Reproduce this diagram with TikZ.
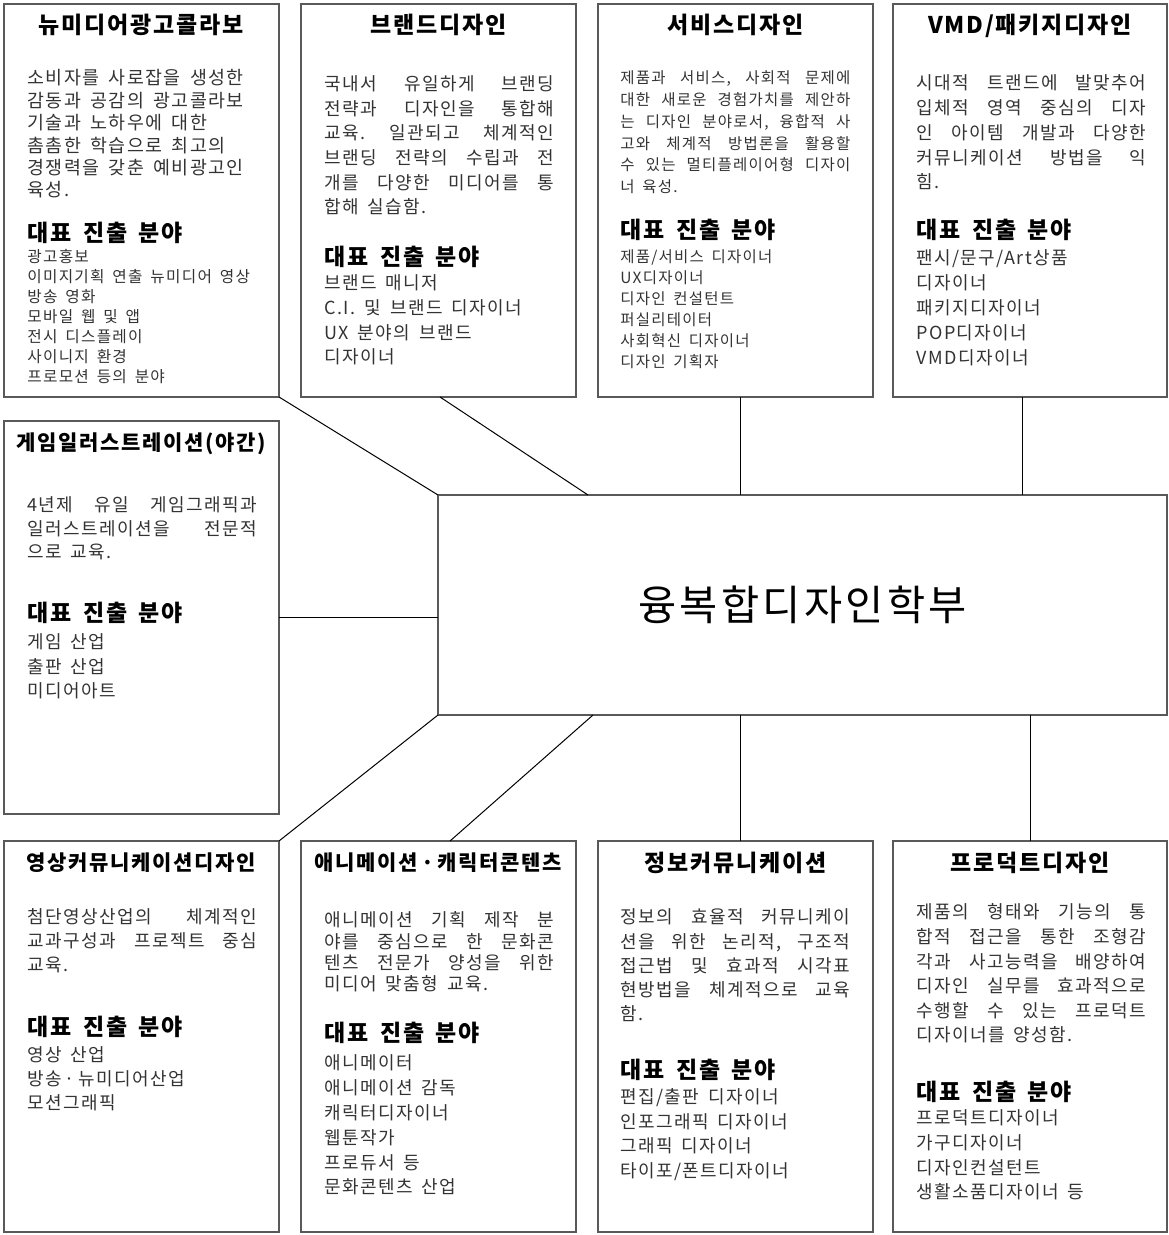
\documentclass[tikz,border=0pt]{standalone}
\usepackage{fontspec}
\setmainfont[LetterSpace=8]{Noto Sans CJK KR}
\usepackage{tikz}
\usetikzlibrary{positioning}
\newcommand{\jl}[1]{\makebox[\linewidth][s]{\frenchspacing\spaceskip=0.5em plus 1fil\relax #1}\\}
\newcommand{\fsp}{\fontdimen2\font=0.5em\fontdimen3\font=0.2em\fontdimen4\font=0.1em\relax}
\newcommand{\fsz}[2]{\fontsize{#1}{#2}\selectfont\fsp\frenchspacing}
\tikzstyle{box} = [rectangle, draw=black!65, line width=0.6pt, anchor=north west, inner sep=0pt,
    outer sep=0pt, minimum width=137.5pt, minimum height=196.5pt]
\tikzstyle{hub} = [rectangle, draw=black!65, line width=0.6pt, inner sep=0pt, outer sep=0pt,
    minimum width=364.5pt, minimum height=110pt, font=\fsz{20.75}{24}]
\tikzstyle{title} = [anchor=base, inner sep=0pt, font=\fsz{11.5}{13}\bfseries\fsp]
\tikzstyle{longtitle} = [title, font=\fsz{10.5}{12}\bfseries\fsp]
\tikzstyle{field} = [anchor=base west, inner sep=0pt, font=\fsz{11.5}{13}\bfseries\fsp]
\tikzstyle{desc} = [anchor=base west, inner sep=0pt, text width=115pt, text=black!80,
    execute at begin node={\spaceskip=0pt\xspaceskip=0pt\relax}]
\tikzstyle{jobs} = [desc]
\tikzstyle{line} = [draw, line width=0.5pt]
\begin{document}
\begin{tikzpicture}[x=0.5pt, y=-0.5pt, node distance=11pt]
      \useasboundingbox (0,0) rectangle (1168,1235);
      % Boxes
      \node [box] (b1) at (4,4) {};
      \node [box, right=of b1] (b2) {};
      \node [box, right=of b2] (b3) {};
      \node [box, right=10pt of b3, minimum width=137pt] (b4) {};
      \node [box, below=12pt of b1] (b5) {};
      \node [hub, right=79.5pt of b5, yshift=6.25pt] (hub) {융복합디자인학부};
      \node [box, below=13.5pt of b5, minimum height=195.5pt] (b7) {};
      \node [box, right=of b7, minimum height=195.5pt] (b8) {};
      \node [box, right=of b8, minimum height=195.5pt] (b9) {};
      \node [box, right=10pt of b9, minimum width=137pt, minimum height=195.5pt] (b10) {};
      % Titles
      \node [title] (t1) at ([yshift=-14.8pt]b1.north) {뉴미디어광고콜라보};
      \node [title] (t2) at ([yshift=-14.8pt]b2.north) {브랜드디자인};
      \node [title] (t3) at ([yshift=-14.8pt]b3.north) {서비스디자인};
      \node [title] (t4) at ([yshift=-14.8pt]b4.north) {VMD/패키지디자인};
      \node [longtitle] (t5) at ([yshift=-14.6pt]b5.north) {게임일러스트레이션(야간)};
      \node [longtitle] (t7) at ([yshift=-14.6pt]b7.north) {영상커뮤니케이션디자인};
      \node [longtitle] (t8) at ([yshift=-14.6pt]b8.north) {애니메이션\,·\,캐릭터콘텐츠};
      \node [title] (t9) at ([yshift=-15pt]b9.north) {정보커뮤니케이션};
      \node [title] (t10) at ([yshift=-15pt]b10.north) {프로덕트디자인};
      % Descriptions
      \node [desc, font=\fsz{9.2}{11.2}] (d1) at ([xshift=11.5pt, yshift=-40.45pt]b1.north west)
        {소비자를 사로잡을 생성한\\감동과 공감의 광고콜라보\\기술과 노하우에 대한\\촘촘한 학습으로 최고의\\경쟁력을 갖춘 예비광고인\\육성.};
      \node [desc, font=\fsz{9}{12.3}] (d2) at ([xshift=11.5pt, yshift=-43.4pt]b2.north west)
        {\jl{국내서 유일하게 브랜딩}\jl{전략과 디자인을 통합해}\jl{교육. 일관되고 체계적인}\jl{브랜딩 전략의 수립과 전}\jl{개를 다양한 미디어를 통}합해 실습함.};
      \node [desc, font=\fsz{7.75}{10.9}] (d3) at ([xshift=11pt, yshift=-39.9pt]b3.north west)
        {\jl{제품과 서비스, 사회적 문제에}\jl{대한 새로운 경험가치를 제안하}\jl{는 디자인 분야로서, 융합적 사}\jl{고와 체계적 방법론을 활용할}\jl{수 있는 멀티플레이어형 디자이}너 육성.};
      \node [desc, font=\fsz{9}{12.4}] (d4) at ([xshift=11.5pt, yshift=-42.9pt]b4.north west)
        {\jl{시대적 트랜드에 발맞추어}\jl{입체적 영역 중심의 디자}\jl{인 아이템 개발과 다양한}\jl{커뮤니케이션 방법을 익}힘.};
      \node [desc, font=\fsz{9}{11.75}] (d5) at ([xshift=11.5pt, yshift=-45.4pt]b5.north west)
        {\jl{4년제 유일 게임그래픽과}\jl{일러스트레이션을 전문적}으로 교육.};
      \node [desc, font=\fsz{9}{12}] (d7) at ([xshift=11.5pt, yshift=-41.4pt]b7.north west)
        {\jl{첨단영상산업의 체계적인}\jl{교과구성과 프로젝트 중심}교육.};
      \node [desc, font=\fsz{9}{10.6}] (d8) at ([xshift=11.5pt, yshift=-42.9pt]b8.north west)
        {\jl{애니메이션 기획 제작 분}\jl{야를 중심으로 한 문화콘}\jl{텐츠 전문가 양성을 위한}미디어 맞춤형 교육.};
      \node [desc, font=\fsz{9}{12.1}] (d9) at ([xshift=11pt, yshift=-41.4pt]b9.north west)
        {\jl{정보의 효율적 커뮤니케이}\jl{션을 위한 논리적, 구조적}\jl{접근법 및 효과적 시각표}\jl{현방법을 체계적으로 교육}함.};
      \node [desc, font=\fsz{9}{12.3}] (d10) at ([xshift=11.5pt, yshift=-38.9pt]b10.north west)
        {\jl{제품의 형태와 기능의 통}\jl{합적 접근을 통한 조형감}\jl{각과 사고능력을 배양하여}\jl{디자인 실무를 효과적으로}\jl{수행할 수 있는 프로덕트}디자이너를 양성함.};
      % Fields
      \node [field] (f1) at ([xshift=11.5pt, yshift=-118.8pt]b1.north west) {대표 진출 분야};
      \node [field] (f2) at ([xshift=11.5pt, yshift=-130.8pt]b2.north west) {대표 진출 분야};
      \node [field] (f3) at ([xshift=11pt, yshift=-117.3pt]b3.north west) {대표 진출 분야};
      \node [field] (f4) at ([xshift=11.5pt, yshift=-117.3pt]b4.north west) {대표 진출 분야};
      \node [field] (f5) at ([xshift=11.5pt, yshift=-100.3pt]b5.north west) {대표 진출 분야};
      \node [field] (f7) at ([xshift=11.5pt, yshift=-97.3pt]b7.north west) {대표 진출 분야};
      \node [field] (f8) at ([xshift=11.5pt, yshift=-100.3pt]b8.north west) {대표 진출 분야};
      \node [field] (f9) at ([xshift=11pt, yshift=-118.8pt]b9.north west) {대표 진출 분야};
      \node [field] (f10) at ([xshift=11.5pt, yshift=-129.8pt]b10.north west) {대표 진출 분야};
      % Jobs
      \node [jobs, font=\fsz{7.85}{10}] (j1) at ([xshift=11.5pt, yshift=-129.45pt]b1.north west)
        {광고홍보\\이미지기획 연출 뉴미디어 영상\\방송 영화\\모바일 웹 및 앱\\전시 디스플레이\\사이니지 환경\\프로모션 등의 분야};
      \node [jobs, font=\fsz{9}{12.35}] (j2) at ([xshift=11.5pt, yshift=-142.9pt]b2.north west)
        {브랜드 매니저\\C.I. 및 브랜드 디자이너\\UX 분야의 브랜드\\디자이너};
      \node [jobs, font=\fsz{7.75}{10.5}] (j3) at ([xshift=11pt, yshift=-129.4pt]b3.north west)
        {제품/서비스 디자이너\\UX디자이너\\디자인 컨설턴트\\퍼실리테이터\\사회혁신 디자이너\\디자인 기획자};
      \node [jobs, font=\fsz{9}{12.5}] (j4) at ([xshift=11.5pt, yshift=-130.4pt]b4.north west)
        {팬시/문구/Art상품\\디자이너\\패키지디자이너\\POP디자이너\\VMD디자이너};
      \node [jobs, font=\fsz{9}{12.2}] (j5) at ([xshift=11.5pt, yshift=-113.9pt]b5.north west)
        {게임 산업\\출판 산업\\미디어아트};
      \node [jobs, font=\fsz{9}{12}] (j7) at ([xshift=11.5pt, yshift=-110.4pt]b7.north west)
        {영상 산업\\방송\,·\,뉴미디어산업\\모션그래픽};
      \node [jobs, font=\fsz{9}{12.4}] (j8) at ([xshift=11.5pt, yshift=-114.4pt]b8.north west)
        {애니메이터\\애니메이션 감독\\캐릭터디자이너\\웹툰작가\\프로듀서 등\\문화콘텐츠 산업};
      \node [jobs, font=\fsz{9}{12.2}] (j9) at ([xshift=11pt, yshift=-131.4pt]b9.north west)
        {편집/출판 디자이너\\인포그래픽 디자이너\\그래픽 디자이너\\타이포/폰트디자이너};
      \node [jobs, font=\fsz{9}{12.35}] (j10) at ([xshift=11.5pt, yshift=-141.9pt]b10.north west)
        {프로덕트디자이너\\가구디자이너\\디자인컨설턴트\\생활소품디자이너 등};
      % Draw edges
      \path [line] (b1.south east) -- (hub.north west);
      \path [line] ([xshift=0.75pt]b2.south) -- ([xshift=75pt]hub.north west);
      \path [line] ([xshift=2.25pt]b3.south) -- ([xshift=2.25pt]b3.south |- hub.north);
      \path [line] ([xshift=-4pt]b4.south) -- ([xshift=-4pt]b4.south |- hub.north);
      \path [line] (b5.east) -- (b5.east -| hub.west);
      \path [line] (hub.south west) -- (b7.north east);
      \path [line] ([xshift=77.5pt]hub.south west) -- ([xshift=5.75pt]b8.north);
      \path [line] ([xshift=2.25pt]b9.north |- hub.south) -- ([xshift=2.25pt]b9.north);
      \path [line] (b10.north |- hub.south) -- (b10.north);
    \end{tikzpicture}
\end{document}
